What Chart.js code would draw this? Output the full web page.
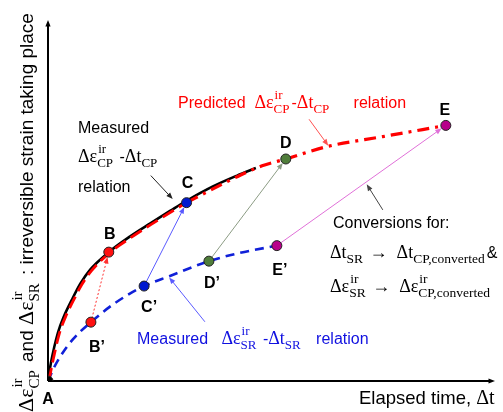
<!DOCTYPE html>
<html>
<head>
<meta charset="utf-8">
<script src="https://cdn.jsdelivr.net/npm/chart.js@4.4.1/dist/chart.umd.min.js"></script>
<style>
html,body{margin:0;padding:0;background:#fff;}
#wrap{width:503px;height:412px;}
</style>
</head>
<body>
<div id="wrap"><canvas id="c" width="503" height="412"></canvas></div>
<script>
// ---- data (schematic units 0..100 on both axes) ----
const pointNames = ['A', 'B', 'B\u2019', 'C', 'C\u2019', 'D', 'D\u2019', 'E', 'E\u2019'];
const pointX = [0, 13.6, 9.6, 31.0, 21.5, 53.2, 36.0, 89.0, 51.2];
const pointY = [0, 35.7, 16.3, 49.4, 26.3, 61.5, 33.2, 70.8, 37.5];

const cpMeasuredX = [0, 0.7, 2.2, 3.6, 5.3, 7.2, 9.4, 13.6, 18.3, 22.8, 27.3, 31.1, 36.9, 42.3, 46.5];
const cpMeasuredY = [0, 5.3, 13.3, 18.0, 22.4, 26.9, 30.8, 35.7, 40.0, 43.6, 47.1, 50.0, 53.9, 56.9, 59.0];

const cpFitX = [0.2, 1.0, 2.5, 3.9, 5.6, 7.5, 9.7, 13.8, 18.5, 23.0, 27.5, 31.1];
const cpFitY = [0, 5.0, 13.0, 17.7, 22.1, 26.6, 30.5, 35.5, 39.7, 43.3, 46.8, 49.5];

const cpPredX = [31.1, 36.9, 43.0, 47.9, 53.2, 62.3, 74.9, 87.7];
const cpPredY = [49.5, 53.2, 57.0, 59.6, 61.5, 64.9, 67.7, 70.5];

const srMeasuredX = [0, 1.1, 2.7, 5.6, 9.6, 15.0, 21.5, 27.3, 36.0, 43.0, 51.2];
const srMeasuredY = [0, 3.1, 6.7, 11.6, 16.3, 21.6, 26.3, 29.1, 33.2, 35.5, 37.5];

// conversion arrows: from primed point to unprimed point (indices into point arrays)
const conversionFrom = [2, 4, 6, 8];
const conversionTo = [1, 3, 5, 7];

// annotation arrows (data units): [x1, y1, x2, y2]
const noteArrowMeasCP = [23.0, 56.9, 27.9, 50.4];
const noteArrowPred = [58.4, 72.5, 62.7, 65.2];
const noteArrowConv = [74.9, 47.4, 71.3, 54.5];
const noteArrowMeasSR = [35.1, 16.4, 27.1, 28.7];

const toXY = (xs, ys) => xs.map((x, i) => ({x: x, y: ys[i]}));

// ---- drawing helpers ----
const FAM_SANS = '"Liberation Sans", Arial, sans-serif';
const FAM_SERIF = '"Liberation Serif", "Times New Roman", serif';
const STD = {sans: 16, serif: 18, small: 13, sup: 9, sub: 5, gap: 2};

function rich(ctx, x, y, parts, color, sz) {
  sz = sz || STD;
  ctx.fillStyle = color;
  ctx.textAlign = 'left';
  ctx.textBaseline = 'alphabetic';
  let cx = x;
  for (const p of parts) {
    if (typeof p === 'string') {
      ctx.font = sz.sans + 'px ' + FAM_SANS;
      ctx.fillText(p, cx, y);
      cx += ctx.measureText(p).width;
    } else {
      ctx.font = sz.serif + 'px ' + FAM_SERIF;
      ctx.fillText(p.s, cx, y);
      cx += ctx.measureText(p.s).width;
      ctx.font = sz.small + 'px ' + FAM_SERIF;
      let w = 0;
      if (p.sup) { ctx.fillText(p.sup, cx + 1, y - sz.sup); w = Math.max(w, ctx.measureText(p.sup).width + 1); }
      if (p.sub) { ctx.fillText(p.sub, cx, y + sz.sub); w = Math.max(w, ctx.measureText(p.sub).width); }
      if (w) cx += w + sz.gap;
    }
  }
  return cx;
}

function arrow(ctx, x1, y1, x2, y2, color, width, dash, head, shorten) {
  const ang = Math.atan2(y2 - y1, x2 - x1);
  if (shorten) { x2 -= Math.cos(ang) * shorten; y2 -= Math.sin(ang) * shorten; }
  ctx.save();
  ctx.strokeStyle = color;
  ctx.fillStyle = color;
  ctx.lineWidth = width;
  ctx.setLineDash(dash || []);
  ctx.beginPath();
  ctx.moveTo(x1, y1);
  ctx.lineTo(x2 - Math.cos(ang) * head * 0.6, y2 - Math.sin(ang) * head * 0.6);
  ctx.stroke();
  ctx.setLineDash([]);
  ctx.beginPath();
  ctx.moveTo(x2, y2);
  ctx.lineTo(x2 - head * Math.cos(ang - 0.38), y2 - head * Math.sin(ang - 0.38));
  ctx.lineTo(x2 - head * Math.cos(ang + 0.38), y2 - head * Math.sin(ang + 0.38));
  ctx.closePath();
  ctx.fill();
  ctx.restore();
}

const decor = {
  id: 'decor',
  beforeDatasetsDraw(chart) {
    const ctx = chart.ctx;
    const xs = chart.scales.x, ys = chart.scales.y;
    const px = v => xs.getPixelForValue(v), py = v => ys.getPixelForValue(v);
    const x0 = px(0), y0 = py(0), xTop = px(100), yTop = py(100);
    // axes
    ctx.save();
    ctx.strokeStyle = '#000';
    ctx.lineWidth = 2;
    ctx.beginPath();
    ctx.moveTo(x0, y0); ctx.lineTo(x0, yTop + 4);
    ctx.moveTo(x0, y0); ctx.lineTo(xTop - 4, y0);
    ctx.stroke();
    ctx.restore();
    arrow(ctx, x0, y0, x0, yTop, '#000', 2, null, 7);
    arrow(ctx, x0, y0, xTop, y0, '#000', 2, null, 7);

    // conversion arrows
    const convColors = ['#ff3030', '#5a5aff', '#8c9c84', '#e070d8'];
    const convDash = [[2, 2], [], [], []];
    conversionFrom.forEach((f, i) => {
      const t = conversionTo[i];
      arrow(ctx, px(pointX[f]), py(pointY[f]), px(pointX[t]), py(pointY[t]), convColors[i], 1, convDash[i], 7, 5);
    });

    // annotation arrows
    const notes = [[noteArrowMeasCP, '#222'], [noteArrowPred, '#ff5050'], [noteArrowConv, '#444'], [noteArrowMeasSR, '#5a5aff']];
    notes.forEach(([a, col]) => arrow(ctx, px(a[0]), py(a[1]), px(a[2]), py(a[3]), col, 1, null, 7));
  },
  afterDraw(chart) {
    const ctx = chart.ctx;
    const xs = chart.scales.x, ys = chart.scales.y;
    // point labels
    const off = {A: [0, 23], B: [1, -13], 'B\u2019': [6, 30], C: [1, -15], 'C\u2019': [5, 26], D: [0, -11], 'D\u2019': [3, 27], E: [-1, -10], 'E\u2019': [3, 29]};
    ctx.save();
    ctx.font = 'bold 16px ' + FAM_SANS;
    ctx.fillStyle = '#000';
    ctx.textAlign = 'center';
    ctx.textBaseline = 'alphabetic';
    pointNames.forEach((n, i) => {
      const o = off[n];
      ctx.fillText(n, xs.getPixelForValue(pointX[i]) + o[0], ys.getPixelForValue(pointY[i]) + o[1]);
    });
    ctx.restore();

    // texts
    rich(ctx, 78, 133, ['Measured'], '#000');
    rich(ctx, 78, 162, [{s: '\u0394\u03b5', sup: 'ir', sub: 'CP'}, ' -', {s: '\u0394t', sub: 'CP'}], '#000');
    rich(ctx, 78, 192, ['relation'], '#000');

    rich(ctx, 178, 108, ['Predicted  ', {s: '\u0394\u03b5', sup: 'ir', sub: 'CP'}, '-', {s: '\u0394t', sub: 'CP'}, '     relation'], '#ff0000');
    rich(ctx, 137, 344, ['Measured   ', {s: '\u0394\u03b5', sup: 'ir', sub: 'SR'}, ' -', {s: '\u0394t', sub: 'SR'}, '   relation'], '#1010e0');

    const CONV = {sans: 16, serif: 18, small: 13.5, sup: 9, sub: 5, gap: 2};
    rich(ctx, 333, 228, ['Conversions for:'], '#000');
    rich(ctx, 330, 258, [{s: '\u0394t', sub: 'SR'}, {s: ' \u2192  \u0394t', sub: 'CP,converted'}, '&'], '#000', CONV);
    rich(ctx, 330, 292, [{s: '\u0394\u03b5', sup: 'ir', sub: 'SR'}, {s: ' \u2192  \u0394\u03b5', sup: 'ir', sub: 'CP,converted'}], '#000', CONV);

    rich(ctx, 359, 404, ['Elapsed time, ', {s: '\u0394t'}], '#000', {sans: 18.5, serif: 20, small: 13, sup: 9, sub: 5, gap: 0});

    // y axis title
    ctx.save();
    ctx.translate(33, 412);
    ctx.rotate(-Math.PI / 2);
    rich(ctx, 0, 0, [{s: '\u0394\u03b5', sup: 'ir', sub: 'CP'}, ' and ', {s: '\u0394\u03b5', sup: 'ir', sub: 'SR'}, ' : irreversible strain taking place'], '#000',
      {sans: 19, serif: 22, small: 15, sup: 11, sub: 6, gap: 3});
    ctx.restore();
  }
};

new Chart(document.getElementById('c'), {
  type: 'scatter',
  data: {
    datasets: [
      {
        label: 'points',
        data: toXY(pointX, pointY),
        showLine: false,
        pointRadius: 5,
        pointBorderWidth: 1,
        pointBorderColor: '#222',
        pointBackgroundColor: ['#000', '#ff1010', '#ff1010', '#0018d0', '#0018d0', '#4f7d3a', '#4f7d3a', '#b8008a', '#b8008a']
      },
      {
        label: 'CP fit',
        data: toXY(cpFitX, cpFitY),
        showLine: true, pointRadius: 0,
        borderColor: '#ff0000', borderWidth: 2.8, borderDash: [13, 6],
        cubicInterpolationMode: 'monotone'
      },
      {
        label: 'CP predicted',
        data: toXY(cpPredX, cpPredY),
        showLine: true, pointRadius: 0,
        borderColor: '#ff0000', borderWidth: 3.2, borderDash: [12, 6, 3, 6],
        cubicInterpolationMode: 'monotone'
      },
      {
        label: 'CP measured',
        data: toXY(cpMeasuredX, cpMeasuredY),
        showLine: true, pointRadius: 0,
        borderColor: '#000', borderWidth: 2.6,
        cubicInterpolationMode: 'monotone'
      },
      {
        label: 'SR measured',
        data: toXY(srMeasuredX, srMeasuredY),
        showLine: true, pointRadius: 0,
        borderColor: '#1020d8', borderWidth: 2.6, borderDash: [9, 6],
        cubicInterpolationMode: 'monotone'
      }
    ]
  },
  options: {
    responsive: false,
    animation: false,
    devicePixelRatio: 1,
    layout: {padding: {left: 48, right: 8, top: 20, bottom: 31}},
    plugins: {legend: {display: false}, tooltip: {enabled: false}},
    scales: {
      x: {type: 'linear', min: 0, max: 100, display: false},
      y: {type: 'linear', min: 0, max: 100, display: false}
    }
  },
  plugins: [decor]
});
</script>
</body>
</html>
